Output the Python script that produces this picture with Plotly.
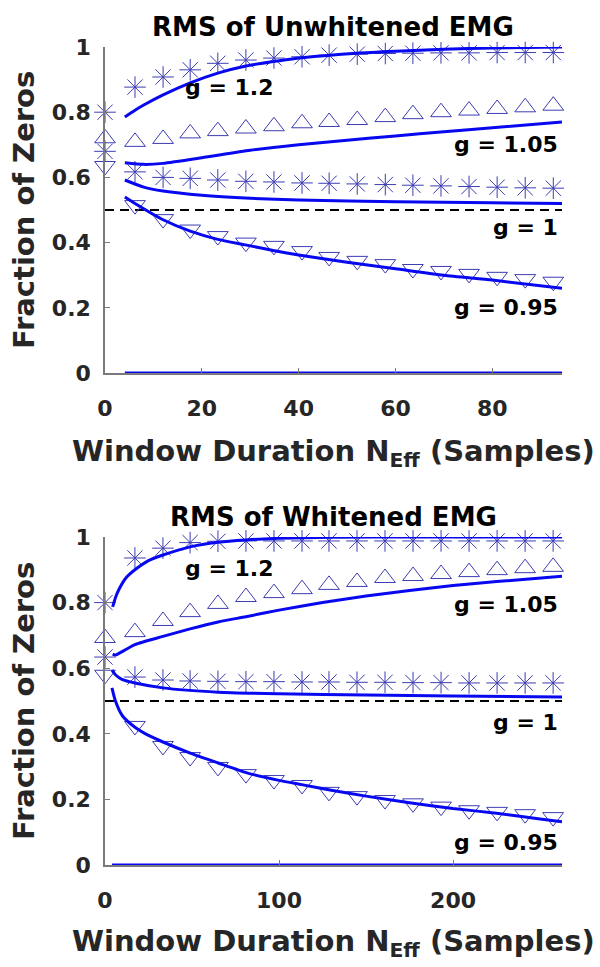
import plotly.graph_objects as go

# ---------------- data: top panel (RMS of Unwhitened EMG) ----------------
top_marker_x = [0, 6.2, 12.0, 17.6, 23.3, 29.1, 34.9, 40.7, 46.3, 52.1, 57.9, 63.6, 69.4, 75.2, 81.0, 86.8, 92.6]
top_g120_pts = [0.80, 0.877, 0.908, 0.93, 0.95, 0.96, 0.966, 0.97, 0.975, 0.978, 0.98, 0.981, 0.982, 0.982, 0.983, 0.983, 0.983]
top_g105_pts = [0.72, 0.709, 0.718, 0.735, 0.742, 0.75, 0.757, 0.766, 0.77, 0.776, 0.785, 0.794, 0.80, 0.805, 0.81, 0.815, 0.82]
top_g100_pts = [0.68, 0.617, 0.60, 0.597, 0.592, 0.588, 0.586, 0.583, 0.582, 0.58, 0.578, 0.576, 0.574, 0.572, 0.57, 0.568, 0.567]
top_g095_pts = [0.635, 0.515, 0.472, 0.44, 0.42, 0.40, 0.39, 0.374, 0.356, 0.344, 0.334, 0.319, 0.313, 0.304, 0.295, 0.288, 0.28]

top_g120_cx = [4.1, 6.2, 8, 12, 17.6, 23.3, 29.1, 36, 40.7, 52, 60, 70, 80, 94.4]
top_g120_cy = [0.785, 0.806, 0.822, 0.853, 0.89, 0.92, 0.942, 0.958, 0.967, 0.981, 0.987, 0.993, 0.997, 1.0]
top_g105_cx = [4.1, 8, 12, 20, 30, 40, 50, 60, 70, 80, 94.4]
top_g105_cy = [0.645, 0.64, 0.643, 0.66, 0.683, 0.70, 0.714, 0.727, 0.740, 0.752, 0.77]
top_g100_cx = [4.1, 8, 12, 20, 30, 40, 60, 80, 94.4]
top_g100_cy = [0.592, 0.57, 0.558, 0.545, 0.536, 0.531, 0.525, 0.522, 0.52]
top_g095_cx = [4.1, 6.2, 12, 17.6, 23.3, 29, 35, 40, 50, 60, 70, 80, 94.4]
top_g095_cy = [0.54, 0.52, 0.47, 0.435, 0.41, 0.393, 0.375, 0.362, 0.34, 0.32, 0.30, 0.285, 0.26]
top_zero_x = [4.1, 94.4]
top_xrange = [0, 94.4]
top_xticks = [0, 20, 40, 60, 80]

# ---------------- data: bottom panel (RMS of Whitened EMG) ----------------
bot_marker_x = [0, 17.2, 33.3, 48.9, 64.9, 81.0, 97.1, 113.2, 128.7, 144.8, 160.9, 177.0, 193.1, 209.2, 225.3, 241.4, 257.5]
bot_g120_pts = [0.80, 0.936, 0.966, 0.983, 0.987, 0.988, 0.988, 0.988, 0.988, 0.988, 0.988, 0.988, 0.988, 0.988, 0.988, 0.988, 0.988]
bot_g105_pts = [0.692, 0.71, 0.744, 0.771, 0.796, 0.817, 0.829, 0.841, 0.854, 0.863, 0.875, 0.881, 0.887, 0.893, 0.899, 0.905, 0.909]
bot_g100_pts = [0.634, 0.573, 0.564, 0.561, 0.56, 0.559, 0.559, 0.558, 0.558, 0.557, 0.557, 0.556, 0.556, 0.555, 0.555, 0.555, 0.555]
bot_g095_pts = [0.58, 0.424, 0.363, 0.329, 0.299, 0.277, 0.259, 0.244, 0.223, 0.21, 0.198, 0.188, 0.178, 0.167, 0.162, 0.155, 0.146]

bot_g120_cx = [4.4, 6, 8, 12, 17.2, 25, 33.3, 48.9, 65, 81, 100, 130, 180, 262.6]
bot_g120_cy = [0.787, 0.815, 0.84, 0.875, 0.90, 0.928, 0.945, 0.97, 0.984, 0.991, 0.996, 0.999, 1.0, 1.0]
bot_g105_cx = [4.4, 6, 8, 17.2, 33.3, 48.9, 65, 81, 100, 125, 150, 175, 200, 225, 262.6]
bot_g105_cy = [0.643, 0.640, 0.645, 0.672, 0.697, 0.72, 0.741, 0.757, 0.777, 0.80, 0.82, 0.837, 0.852, 0.864, 0.88]
bot_g100_cx = [4, 6, 10, 17.2, 33.3, 65, 100, 150, 200, 262.6]
bot_g100_cy = [0.594, 0.58, 0.565, 0.555, 0.54, 0.527, 0.522, 0.518, 0.515, 0.512]
bot_g095_cx = [4, 6, 10, 17.2, 25, 33.3, 49, 65, 82, 100, 113, 130, 150, 175, 200, 225, 250, 262.6]
bot_g095_cy = [0.54, 0.50, 0.455, 0.42, 0.395, 0.375, 0.341, 0.311, 0.28, 0.258, 0.245, 0.228, 0.21, 0.19, 0.172, 0.158, 0.14, 0.132]
bot_zero_x = [4, 262.6]
bot_xrange = [0, 262.6]
bot_xticks = [0, 100, 200]

yticks = [0, 0.2, 0.4, 0.6, 0.8, 1]
ytick_text = ["0", "0.2", "0.4", "0.6", "0.8", "1"]

top_labels = [("g = 1.2", 25.6, 0.877, "center"), ("g = 1.05", 94.0, 0.70, "right"),
              ("g = 1", 94.0, 0.447, "right"), ("g = 0.95", 94.0, 0.20, "right")]
bot_labels = [("g = 1.2", 71.3, 0.905, "center"), ("g = 1.05", 261.5, 0.793, "right"),
              ("g = 1", 261.5, 0.433, "right"), ("g = 0.95", 261.5, 0.07, "right")]

titles = ["RMS of Unwhitened EMG", "RMS of Whitened EMG"]
xtitle = "Window Duration N<sub>Eff</sub> (Samples)"
ytitle = "Fraction of Zeros"

# ---------------- styling ----------------
FONT = "DejaVu Sans"
LINE_BLUE = "#0808f0"
MARK_BLUE = "#3c3cb4"
AXIS_GRAY = "#7a7a7a"
TXT = "#262626"

fig = go.Figure()


def add_panel(xs, ys, mx, pts, curves, zero_x, xr):
    # dashed reference at 0.5
    fig.add_trace(go.Scatter(x=xr, y=[0.5, 0.5], mode="lines", xaxis=xs, yaxis=ys,
                             line=dict(color="black", width=2, dash="9px,6px"),
                             showlegend=False, hoverinfo="skip", cliponaxis=False))
    symbols = ["asterisk-open", "triangle-up-open", "asterisk-open", "triangle-down-open"]
    for vals, sym in zip(pts, symbols):
        fig.add_trace(go.Scatter(x=mx, y=vals, mode="markers", xaxis=xs, yaxis=ys,
                                 marker=dict(symbol=sym, size=18, color=MARK_BLUE,
                                             line=dict(color=MARK_BLUE, width=1)),
                                 showlegend=False, cliponaxis=False))
    for cx, cy in curves:
        fig.add_trace(go.Scatter(x=cx, y=cy, mode="lines", xaxis=xs, yaxis=ys,
                                 line=dict(color=LINE_BLUE, width=3, shape="spline", smoothing=0.6),
                                 showlegend=False, cliponaxis=False))
    fig.add_trace(go.Scatter(x=zero_x, y=[0, 0], mode="lines", xaxis=xs, yaxis=ys,
                             line=dict(color=LINE_BLUE, width=3),
                             showlegend=False, cliponaxis=False))


add_panel("x", "y", top_marker_x,
          [top_g120_pts, top_g105_pts, top_g100_pts, top_g095_pts],
          [(top_g120_cx, top_g120_cy), (top_g105_cx, top_g105_cy),
           (top_g100_cx, top_g100_cy), (top_g095_cx, top_g095_cy)],
          top_zero_x, top_xrange)
add_panel("x2", "y2", bot_marker_x,
          [bot_g120_pts, bot_g105_pts, bot_g100_pts, bot_g095_pts],
          [(bot_g120_cx, bot_g120_cy), (bot_g105_cx, bot_g105_cy),
           (bot_g100_cx, bot_g100_cy), (bot_g095_cx, bot_g095_cy)],
          bot_zero_x, bot_xrange)

W, H = 600, 967
xdom = [105 / W, 562 / W]
top_dom = [1 - 373 / H, 1 - 47 / H]
bot_dom = [1 - 865 / H, 1 - 537 / H]

tickfont = dict(family=FONT, size=22, color=TXT, weight="bold")
common_x = dict(showline=True, linecolor=AXIS_GRAY, linewidth=1.5, ticks="inside", ticklen=5,
                tickcolor=AXIS_GRAY, showgrid=False, zeroline=False, tickfont=tickfont,
                automargin=False, ticklabelstandoff=15)
common_y = dict(showline=True, linecolor=AXIS_GRAY, linewidth=1.5, ticks="inside", ticklen=5,
                tickcolor=AXIS_GRAY, showgrid=False, zeroline=False, tickfont=tickfont,
                automargin=False, range=[0, 1], tickvals=yticks, ticktext=ytick_text,
                ticklabelstandoff=8)

fig.update_layout(
    width=W, height=H, margin=dict(l=0, r=0, t=0, b=0),
    paper_bgcolor="white", plot_bgcolor="white", template="none",
    xaxis=dict(domain=xdom, range=top_xrange, tickvals=top_xticks, anchor="y", **common_x),
    yaxis=dict(domain=top_dom, anchor="x", **common_y),
    xaxis2=dict(domain=xdom, range=bot_xrange, tickvals=bot_xticks, anchor="y2", **common_x),
    yaxis2=dict(domain=bot_dom, anchor="x2", **common_y),
)

ann = []
lab_font = dict(family=FONT, size=22, color="black", weight="bold")
for (t, x, y, anc) in top_labels:
    ann.append(dict(text=t, x=x, y=y, xref="x", yref="y", xanchor=anc, yanchor="middle",
                    showarrow=False, font=lab_font))
for (t, x, y, anc) in bot_labels:
    ann.append(dict(text=t, x=x, y=y, xref="x2", yref="y2", xanchor=anc, yanchor="middle",
                    showarrow=False, font=lab_font))

title_font = dict(family=FONT, size=26, color="black", weight="bold")
ann.append(dict(text=titles[0], x=333 / W, y=1 - 27 / H, xref="paper", yref="paper",
                xanchor="center", yanchor="middle", showarrow=False, font=title_font))
ann.append(dict(text=titles[1], x=333 / W, y=1 - 517 / H, xref="paper", yref="paper",
                xanchor="center", yanchor="middle", showarrow=False, font=title_font))

axt_font = dict(family=FONT, size=29, color=TXT, weight="bold")
for yc in [210, 701]:
    ann.append(dict(text=ytitle, x=24 / W, y=1 - yc / H, xref="paper", yref="paper",
                    xanchor="center", yanchor="middle", textangle=-90, showarrow=False,
                    font=axt_font))
for yt in [432, 922]:
    ann.append(dict(text=xtitle, x=333 / W, y=1 - yt / H, xref="paper", yref="paper",
                    xanchor="center", yanchor="top", showarrow=False, font=axt_font))

fig.update_layout(annotations=ann)
fig.write_html("out.html")
